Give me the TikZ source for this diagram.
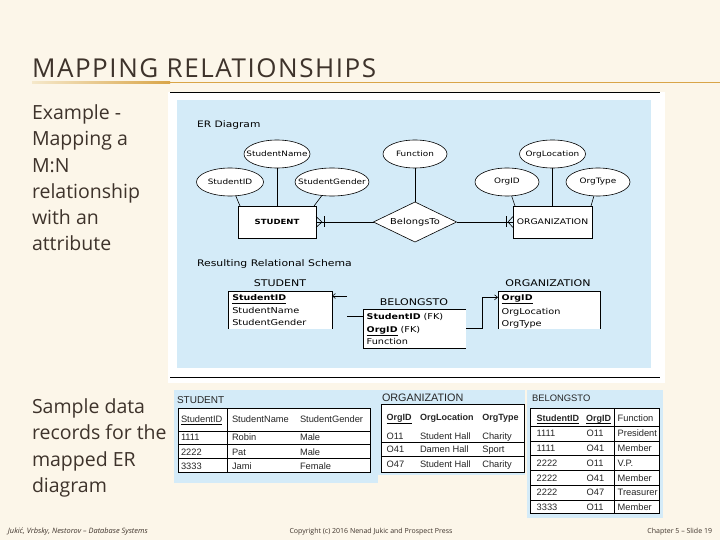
\documentclass[tikz,border=0pt]{standalone}
\usepackage{fontspec}
\setmainfont{Open Sans}
\newfontfamily\titlefont[LetterSpace=6]{Open Sans}
\newfontfamily\erfont[FakeStretch=1.2]{DejaVu Sans}
\newfontfamily\tabfont{Liberation Sans}
\usetikzlibrary{shapes.geometric,arrows.meta}
\definecolor{cream}{HTML}{FCF6E9}
\definecolor{ink}{HTML}{3E332B}
\definecolor{panel}{HTML}{D4EBF8}
\definecolor{goldA}{HTML}{F5E8CA}
\definecolor{goldB}{HTML}{D9A548}
\begin{document}
\begin{tikzpicture}[x=1pt,y=-1pt,
  every node/.style={inner sep=0pt, outer sep=0pt},
  leftxt/.style={anchor=base west, text=ink, font=\fontsize{19.5}{24}\selectfont},
  foot/.style={text=ink, font=\fontsize{7}{8}\selectfont},
  attr/.style={ellipse, draw, fill=white, line width=0.6pt, minimum width=66pt, minimum height=28pt, inner xsep=-14pt, font=\erfont\fontsize{7.4}{9}\selectfont},
  ent/.style={rectangle, draw, fill=white, line width=0.6pt, minimum width=78pt, minimum height=32pt, font=\erfont\fontsize{7.7}{9}\selectfont},
  rel/.style={diamond, draw, fill=white, line width=0.6pt, minimum width=83pt, minimum height=40pt, aspect=2, font=\erfont\fontsize{8.2}{9}\selectfont},
  erline/.style={line width=0.6pt},
  schemabox/.style={fill=white, draw=none},
  slabel/.style={anchor=base, font=\erfont\fontsize{9.2}{10}\selectfont},
  sfield/.style={anchor=base west, font=\erfont\fontsize{8.1}{9}\selectfont},
  sbold/.style={anchor=base west, font=\erfont\bfseries\fontsize{7.9}{9}\selectfont},
  tcell/.style={anchor=base west, text=black!85, font=\tabfont\fontsize{9.3}{10}\selectfont},
  tbold/.style={anchor=base west, text=black!85, font=\tabfont\bfseries\fontsize{9}{10}\selectfont},
  ttitle/.style={anchor=base west, text=black!85, font=\tabfont\fontsize{10}{11}\selectfont},
  tabline/.style={line width=0.7pt},
  barb/.style={-{Straight Barb[length=3pt,width=5pt]}}
]
\useasboundingbox (0,0) rectangle (720,540);
% background
\fill[cream] (0,0) rectangle (720,540);
% title
\node[anchor=base west, text=ink, font=\titlefont\fontsize{26}{30}\selectfont] (title) at (32,77.3) {MAPPING RELATIONSHIPS};
\shade[left color=goldA, right color=goldB] (32,81.8) rectangle (170,83.3);
\fill[goldB] (170,81.8) rectangle (720,83.3);
% left texts
\node[leftxt] (l1) at (32,120) {Example -};
\node[leftxt] (l2) at (32,146) {Mapping a};
\node[leftxt] (l3) at (32,172.3) {M:N};
\node[leftxt] (l4) at (32,198.5) {relationship};
\node[leftxt] (l5) at (32,224.8) {with an};
\node[leftxt] (l6) at (32,250.5) {attribute};
\node[leftxt] (m1) at (32,413) {Sample data};
\node[leftxt] (m2) at (32,439.5) {records for the};
\node[leftxt] (m3) at (32,466) {mapped ER};
\node[leftxt] (m4) at (32,492) {diagram};
% footer
\node[foot, anchor=base west, font=\itshape\fontsize{7.4}{8}\selectfont] (f1) at (8,533.5) {Jukić, Vrbsky, Nestorov – Database Systems};
\node[foot, anchor=base] (f2) at (371,533.5) {Copyright (c) 2016 Nenad Jukic and Prospect Press};
\node[foot, anchor=base east] (f3) at (712,533.5) {Chapter 5 – Slide 19};

% ===== top figure =====
\fill[white] (168,92) rectangle (665,383);
\draw[line width=0.8pt] (170,92.5) -- (660,92.5);
\draw[line width=0.8pt] (170,377.3) -- (660,377.3);
\fill[panel] (177,100.5) rectangle (651,367.5);

\node[anchor=base west, font=\erfont\fontsize{8.9}{10}\selectfont] (erd) at (197,127.7) {ER Diagram};
% attributes
\node[attr] (sname) at (277,154) {StudentName};
\node[attr, minimum width=67pt] (sid) at (230,182) {StudentID};
\node[attr, minimum width=74pt] (sgen) at (332,182) {StudentGender};
\node[attr, minimum width=64pt] (func) at (415,154) {Function};
\node[attr] (oloc) at (552.5,154) {OrgLocation};
\node[attr, minimum width=64pt] (oid) at (507,182) {OrgID};
\node[attr, minimum width=64pt] (otype) at (598,182) {OrgType};
% entities and relationship
\node[ent, font=\erfont\bfseries\fontsize{7.1}{9}\selectfont] (stu) at (277,222) {STUDENT};
\node[ent, minimum width=79pt] (org) at (552.5,222) {ORGANIZATION};
\node[rel] (bel) at (415,222) {BelongsTo};
% attribute lines
\draw[erline] (sname) -- (stu.north);
\draw[erline] (sid) -- ([xshift=2pt]stu.north west);
\draw[erline] (sgen) -- ([xshift=-2pt]stu.north east);
\draw[erline] (func) -- (bel.north);
\draw[erline] (oloc) -- (org.north);
\draw[erline] (oid) -- ([xshift=2pt]org.north west);
\draw[erline] (otype) -- ([xshift=-1pt]org.north east);
% relationship lines with crow's feet
\draw[erline] (stu.east) -- (bel.west);
\draw[erline] (bel.east) -- (org.west);
\draw[erline] ([yshift=5.5pt]stu.east) -- ([xshift=6pt]stu.east) -- ([yshift=-5.5pt]stu.east);
\draw[erline] ([xshift=8.5pt,yshift=5.5pt]stu.east) -- ([xshift=8.5pt,yshift=-5.5pt]stu.east);
\draw[erline] ([yshift=5.5pt]org.west) -- ([xshift=-5pt]org.west) -- ([yshift=-5.5pt]org.west);
\draw[erline] ([xshift=-7pt,yshift=5.5pt]org.west) -- ([xshift=-7pt,yshift=-5.5pt]org.west);

% relational schema
\node[anchor=base west, font=\erfont\fontsize{9.05}{10}\selectfont] (rrs) at (197,266.7) {Resulting Relational Schema};
\node[slabel] (lstu) at (280,286.4) {STUDENT};
\node[slabel] (lbel) at (414,305) {BELONGSTO};
\node[slabel] (lorg) at (548,286.4) {ORGANIZATION};

\node[schemabox, minimum width=104pt, minimum height=38pt] (sstu) at (280,310) {};
\draw[erline] (sstu.south west) -- (sstu.north west) -- (sstu.north east) -- (sstu.south east);
\node[schemabox, minimum width=102pt, minimum height=38pt] (sorg) at (549,310) {};
\draw[erline] (sorg.south west) -- (sorg.north west) -- (sorg.north east) -- (sorg.south east);
\node[schemabox, minimum width=103pt, minimum height=39pt] (sbel) at (414.5,328.5) {};
\draw[erline] (sbel.north east) -- (sbel.north west) -- (sbel.south west) -- (sbel.south east);

\node[sbold] (f_sid) at (232.3,300) {StudentID};
\draw[erline] ([yshift=-3.3pt]f_sid.base west) -- ([yshift=-3.3pt]f_sid.base east);
\node[sfield] (f_sname) at (232.3,313.7) {StudentName};
\node[sfield] (f_sgen) at (232.3,325.7) {StudentGender};

\node[sbold] (f_bsid) at (366.7,319) {StudentID};
\node[sfield, anchor=base west] (f_fk1) at ([xshift=3pt]f_bsid.base east) {(FK)};
\node[sbold] (f_boid) at (366.7,332) {OrgID};
\draw[erline] ([yshift=-3.3pt]f_boid.base west) -- ([yshift=-3.3pt]f_boid.base east);
\node[sfield, anchor=base west] (f_fk2) at ([xshift=3pt]f_boid.base east) {(FK)};
\node[sfield] (f_bfun) at (366.7,344) {Function};

\node[sbold] (f_oid) at (501.7,300) {OrgID};
\draw[erline] ([yshift=-3.3pt]f_oid.base west) -- ([yshift=-3.3pt]f_oid.base east);
\node[sfield] (f_oloc) at (501.7,314) {OrgLocation};
\node[sfield] (f_otype) at (501.7,326) {OrgType};

\coordinate (j1) at (347,296);
\coordinate (j2) at (347,316);
\coordinate (j3) at (482,328.3);
\coordinate (j4) at (482,297.3);
\draw[erline, barb] (j1) -- (sstu.east |- j1);
\draw[erline] (sbel.west |- j2) -- (j2);
\draw[erline, barb] (sbel.east |- j3) -- (j3) -- (j4) -- (sorg.west |- j4);

% ===== bottom tables =====
\fill[panel] (174,390) rectangle (378,483);
\fill[panel] (377,390) rectangle (525,475);
\fill[panel] (527,390) rectangle (663,518);

% STUDENT table
\node[ttitle] (tt1) at (177,403.3) {STUDENT};
\fill[white] (178,408) rectangle (370,472.3);
\draw[tabline] (178,408) rectangle (370,472.3);
\draw[tabline] (178,431.7) -- (370,431.7);
\draw[tabline] (178,444.5) -- (370,444.5);
\draw[tabline] (178,458.3) -- (370,458.3);
\draw[tabline] (227,408) -- (227,472.3);
\node[tcell] (h11) at (181,422.3) {StudentID};
\draw[line width=0.6pt] ([yshift=-2.2pt]h11.base west) -- ([yshift=-2.2pt]h11.base east);
\node[tcell] (h12) at (232,422.3) {StudentName};
\node[tcell] (h13) at (300,422.3) {StudentGender};
\foreach \t/\x/\y [count=\i] in {1111/181/440, Robin/232/440, Male/300/440, 2222/181/455, Pat/232/455, Male/300/455, 3333/181/469.3, Jami/232/469.3, Female/300/469.3}
  \node[tcell] (sd\i) at (\x,\y) {\t};

% ORGANIZATION table
\node[ttitle, font=\tabfont\fontsize{10.8}{11}\selectfont] (tt2) at (382,401) {ORGANIZATION};
\fill[white] (381,404) rectangle (524,472.3);
\draw[tabline] (381,404) rectangle (524,472.3);
\draw[tabline] (381,442.3) -- (524,442.3);
\draw[tabline] (381,456.7) -- (524,456.7);
\node[tbold] (h21) at (386.7,420.6) {OrgID};
\draw[line width=0.6pt] ([yshift=-2.6pt]h21.base west) -- ([yshift=-2.6pt]h21.base east);
\node[tbold] (h22) at (420,420.6) {OrgLocation};
\node[tbold] (h23) at (482.3,420.6) {OrgType};
\foreach \t/\x/\y [count=\i] in {O11/386.7/439.2, Student Hall/420/439.2, Charity/482.3/439.2, O41/386.7/452.8, Damen Hall/420/452.8, Sport/482.3/452.8, O47/386.7/467.8, Student Hall/420/467.8, Charity/482.3/467.8}
  \node[tcell] (od\i) at (\x,\y) {\t};

% BELONGSTO table
\node[ttitle, font=\tabfont\fontsize{9.4}{11}\selectfont] (tt3) at (532,401.5) {BELONGSTO};
\fill[white] (530,408) rectangle (659,513.3);
\draw[tabline] (530,408) rectangle (659,513.3);
\foreach \yy in {426,441,455.7,470.7,485,500}
  \draw[tabline] (530,\yy) -- (659,\yy);
\draw[tabline] (614,408) -- (614,513.3);
\node[tbold] (h31) at (536.7,421.3) {StudentID};
\draw[line width=0.6pt] ([yshift=-2.2pt]h31.base west) -- ([yshift=-2.2pt]h31.base east);
\node[tbold] (h32) at (586,421.3) {OrgID};
\draw[line width=0.6pt] ([yshift=-2.2pt]h32.base west) -- ([yshift=-2.2pt]h32.base east);
\node[tcell] (h33) at (617.7,421.3) {Function};
\foreach \a/\b/\c/\y [count=\i] in {1111/O11/President/436.8, 1111/O41/Member/451.6, 2222/O11/V.P./466.4, 2222/O41/Member/481.3, 2222/O47/Treasurer/495.8, 3333/O11/Member/510}
  {\node[tcell] (ba\i) at (536.7,\y) {\a};
   \node[tcell] (bb\i) at (586.7,\y) {\b};
   \node[tcell] (bc\i) at (617.7,\y) {\c};}
\end{tikzpicture}
\end{document}
